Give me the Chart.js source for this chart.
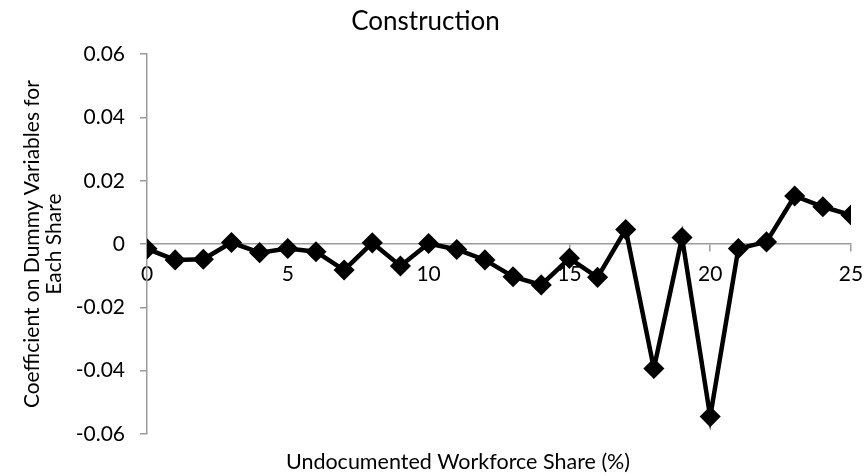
<!DOCTYPE html>
<html>
<head>
<meta charset="utf-8">
<script src="https://cdn.jsdelivr.net/npm/chart.js@4.4.1/dist/chart.umd.min.js"></script>
<style>
  html, body { margin: 0; padding: 0; background: #fff; }
  #wrap { width: 865px; height: 476px; }
</style>
</head>
<body>
<div id="wrap"><canvas id="myChart" width="865" height="476"></canvas></div>
<script>
// values
const shares = [0, 1, 2, 3, 4, 5, 6, 7, 8, 9, 10, 11, 12, 13, 14, 15, 16, 17, 18, 19, 20, 21, 22, 23, 24, 25];
const coefs = [-0.0015, -0.005, -0.0048, 0.0005, -0.0027, -0.0014, -0.0024, -0.0082, 0.0004, -0.0069,
    0.0002, -0.0017, -0.005, -0.0103, -0.0129, -0.0045, -0.0105, 0.0046, -0.0393, 0.0021,
    -0.0545, -0.0014, 0.0007, 0.0152, 0.0118, 0.0092];
const yTicks = [-0.06, -0.04, -0.02, 0, 0.02, 0.04, 0.06];
const xTicks = [0, 5, 10, 15, 20, 25];

const chartTitle = 'Construction';
const xTitle = 'Undocumented Workforce Share (%)';
const yTitle = ['Coefficient on Dummy Variables for', 'Each Share'];

const fontFamily = 'Lato, "Liberation Sans", sans-serif';
const axisGrey = '#9b9b9b';

let points = [];
for (let i = 0; i < shares.length; i++) {
    points.push({ x: shares[i], y: coefs[i] });
}

// x axis title sits under the chart, a bit left of centre like the original
const xTitlePlugin = {
    id: 'xTitle',
    afterDraw(chart) {
        const c = chart.ctx;
        c.save();
        c.font = '21.5px ' + fontFamily;
        c.fillStyle = '#000';
        c.textAlign = 'center';
        c.textBaseline = 'middle';
        c.fillText(xTitle, 458, 462);
        c.restore();
    }
};

const ctx = document.getElementById('myChart');
new Chart(ctx, {
    type: 'line',
    data: {
        datasets: [{
            label: 'Construction',
            data: points,
            borderColor: '#000',
            backgroundColor: '#000',
            borderWidth: 4.5,
            pointStyle: 'rectRot',
            pointRadius: 9.5,
            pointBorderWidth: 1.5,
            pointBackgroundColor: '#000',
            pointBorderColor: '#000',
            tension: 0,
            fill: false
        }]
    },
    options: {
        responsive: false,
        animation: false,
        // axis at y=0 takes no room, so the bottom space is kept by padding
        layout: { padding: { left: 0, right: 14, top: 0, bottom: 42 } },
        plugins: {
            legend: { display: false },
            tooltip: { enabled: false },
            title: {
                display: true,
                text: chartTitle,
                color: '#000',
                font: { family: fontFamily, size: 26, weight: 'normal', lineHeight: 1.2 },
                padding: { top: 6, bottom: 17 }
            }
        },
        scales: {
            x: {
                type: 'linear',
                position: { y: 0 },
                min: 0,
                max: 25,
                afterBuildTicks(scale) {
                    scale.ticks = xTicks.map(v => ({ value: v }));
                },
                afterFit(scale) {
                    scale.paddingLeft = 0;
                    scale.paddingRight = 0;
                },
                grid: {
                    drawOnChartArea: false,
                    drawTicks: true,
                    tickLength: 7,
                    color: axisGrey,
                    lineWidth: 1.5
                },
                border: { display: true, color: axisGrey, width: 1.5 },
                ticks: {
                    color: '#000',
                    padding: 11,
                    maxRotation: 0,
                    font: { family: fontFamily, size: 21 }
                }
            },
            y: {
                type: 'linear',
                min: -0.06,
                max: 0.06,
                afterBuildTicks(scale) {
                    scale.ticks = yTicks.map(v => ({ value: v }));
                },
                afterFit(scale) { scale.width = 147; },
                grid: {
                    drawOnChartArea: false,
                    drawTicks: true,
                    tickLength: 7,
                    color: axisGrey,
                    lineWidth: 1.5
                },
                border: { display: true, color: axisGrey, width: 1.5 },
                ticks: {
                    color: '#000',
                    padding: 15,
                    font: { family: fontFamily, size: 21 },
                    callback: v => String(+v.toFixed(2))
                },
                title: {
                    display: true,
                    text: yTitle,
                    color: '#000',
                    font: { family: fontFamily, size: 21, lineHeight: 1.05 },
                    padding: { top: 21, bottom: 0 }
                }
            }
        }
    },
    plugins: [xTitlePlugin]
});
</script>
</body>
</html>
